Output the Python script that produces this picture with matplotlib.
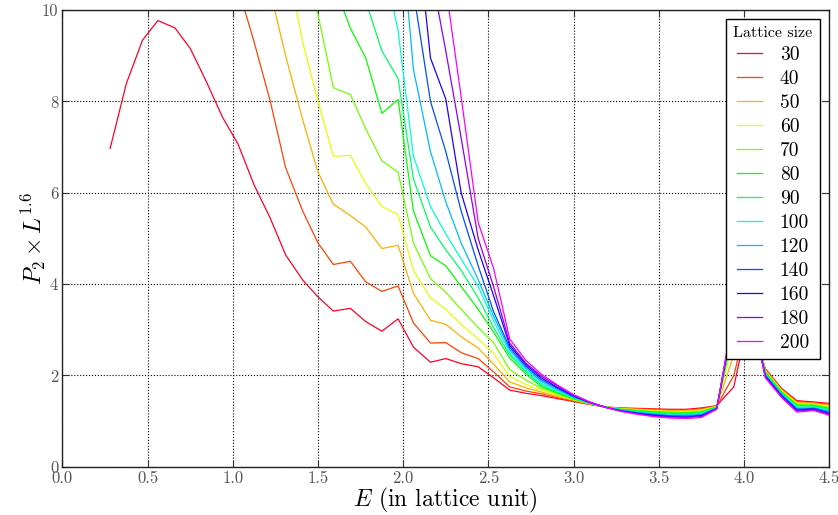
import numpy as np
import matplotlib
matplotlib.use("Agg")
import matplotlib.pyplot as plt
from matplotlib.ticker import FormatStrFormatter

nan = np.nan

# Energy grid (in lattice units)
energy = [0.28, 0.375, 0.47, 0.56, 0.66, 0.75, 0.84, 0.94, 1.03, 1.125,
          1.22, 1.31, 1.41, 1.5, 1.59, 1.69, 1.78, 1.875, 1.97, 2.06,
          2.16, 2.25, 2.34, 2.44, 2.53, 2.625, 2.72, 2.81, 2.91, 3.0,
          3.09, 3.19, 3.28, 3.375, 3.47, 3.56, 3.66, 3.75, 3.84, 3.94,
          4.03, 4.125, 4.22, 4.31, 4.41, 4.5]

lattice_sizes = [30, 40, 50, 60, 70, 80, 90, 100, 120, 140, 160, 180, 200]

p2_L30 = [6.97, 8.39, 9.34, 9.77, 9.61, 9.16, 8.47, 7.65, 7.07, 6.17,
          5.44, 4.64, 4.09, 3.72, 3.41, 3.47, 3.18, 2.97, 3.24, 2.62,
          2.29, 2.37, 2.26, 2.19, 1.95, 1.68, 1.61, 1.56, 1.49, 1.43,
          1.37, 1.31, 1.29, 1.28, 1.27, 1.26, 1.26, 1.29, 1.34, 1.75,
          3.3, 2.15, 1.72, 1.45, 1.42, 1.39]
p2_L40 = [nan, nan, nan, nan, nan, nan, nan, nan, 10.5, 9.3,
          8.0, 6.55, 5.6, 4.9, 4.43, 4.5, 4.05, 3.84, 3.96, 3.15,
          2.71, 2.72, 2.5, 2.37, 2.08, 1.75, 1.66, 1.60, 1.51, 1.44,
          1.37, 1.31, 1.28, 1.27, 1.26, 1.24, 1.24, 1.27, 1.33, 2.0,
          3.35, 2.13, 1.70, 1.43, 1.40, 1.37]
p2_L50 = [nan, nan, nan, nan, nan, nan, nan, nan, nan, nan,
          10.4, 9.0, 7.6, 6.45, 5.75, 5.5, 5.25, 4.78, 4.85, 3.8,
          3.21, 3.12, 2.85, 2.6, 2.25, 1.86, 1.73, 1.64, 1.54, 1.46,
          1.38, 1.31, 1.28, 1.26, 1.24, 1.23, 1.23, 1.25, 1.33, 2.45,
          3.4, 2.12, 1.69, 1.41, 1.39, 1.35]
p2_L60 = [nan, nan, nan, nan, nan, nan, nan, nan, nan, nan,
          nan, 11.2, 9.3, 8.0, 6.8, 6.82, 6.2, 5.7, 5.52, 4.3,
          3.7, 3.45, 3.12, 2.8, 2.48, 1.98, 1.80, 1.68, 1.56, 1.47,
          1.39, 1.31, 1.27, 1.25, 1.23, 1.21, 1.21, 1.24, 1.32, 2.8,
          3.45, 2.10, 1.67, 1.39, 1.37, 1.32]
p2_L70 = [nan, nan, nan, nan, nan, nan, nan, nan, nan, nan,
          nan, nan, 11.3, 9.9, 8.3, 8.15, 7.4, 6.7, 6.45, 4.9,
          4.12, 3.82, 3.45, 3.05, 2.72, 2.13, 1.90, 1.72, 1.59, 1.48,
          1.39, 1.31, 1.26, 1.24, 1.21, 1.20, 1.19, 1.22, 1.31, 3.0,
          3.5, 2.08, 1.65, 1.37, 1.36, 1.30]
p2_L80 = [nan, nan, nan, nan, nan, nan, nan, nan, nan, nan,
          nan, nan, nan, nan, 10.6, 9.6, 8.95, 7.74, 8.04, 5.6,
          4.62, 4.4, 3.95, 3.45, 2.95, 2.38, 2.03, 1.76, 1.61, 1.49,
          1.40, 1.31, 1.26, 1.23, 1.20, 1.18, 1.18, 1.20, 1.31, 3.05,
          3.5, 2.07, 1.64, 1.35, 1.34, 1.28]
p2_L90 = [nan, nan, nan, nan, nan, nan, nan, nan, nan, nan,
          nan, nan, nan, nan, nan, 11.2, 10.2, 9.1, 8.5, 6.3,
          5.25, 4.75, 4.3, 3.7, 3.05, 2.45, 2.08, 1.79, 1.63, 1.51,
          1.40, 1.31, 1.25, 1.22, 1.18, 1.17, 1.16, 1.19, 1.30, 3.1,
          3.55, 2.05, 1.62, 1.33, 1.33, 1.26]
p2_L100 = [nan, nan, nan, nan, nan, nan, nan, nan, nan, nan,
           nan, nan, nan, nan, nan, nan, nan, 11.2, 9.55, 6.8,
           5.7, 5.1, 4.55, 3.95, 3.2, 2.5, 2.12, 1.83, 1.66, 1.52,
           1.40, 1.30, 1.24, 1.20, 1.17, 1.15, 1.14, 1.17, 1.29, 3.15,
           3.55, 2.03, 1.60, 1.30, 1.31, 1.24]
p2_L120 = [nan, nan, nan, nan, nan, nan, nan, nan, nan, nan,
           nan, nan, nan, nan, nan, nan, nan, nan, 12.5, 8.7,
           6.9, 5.8, 4.9, 4.1, 3.3, 2.56, 2.16, 1.87, 1.68, 1.53,
           1.41, 1.30, 1.24, 1.19, 1.16, 1.13, 1.13, 1.15, 1.29, 3.2,
           3.6, 2.02, 1.59, 1.28, 1.29, 1.22]
p2_L140 = [nan, nan, nan, nan, nan, nan, nan, nan, nan, nan,
           nan, nan, nan, nan, nan, nan, nan, nan, 14.0, 10.4,
           8.0, 6.9, 5.6, 4.4, 3.4, 2.61, 2.2, 1.91, 1.71, 1.54,
           1.41, 1.30, 1.23, 1.18, 1.14, 1.12, 1.11, 1.13, 1.28, 3.25,
           3.6, 2.0, 1.57, 1.26, 1.28, 1.19]
p2_L160 = [nan, nan, nan, nan, nan, nan, nan, nan, nan, nan,
           nan, nan, nan, nan, nan, nan, nan, nan, nan, 12.5,
           8.95, 8.05, 6.0, 4.75, 3.75, 2.66, 2.24, 1.95, 1.73, 1.56,
           1.42, 1.30, 1.22, 1.17, 1.13, 1.10, 1.09, 1.12, 1.27, 3.3,
           3.6, 1.98, 1.55, 1.24, 1.26, 1.17]
p2_L180 = [nan, nan, nan, nan, nan, nan, nan, nan, nan, nan,
           nan, nan, nan, nan, nan, nan, nan, nan, nan, 13.5,
           10.9, 9.1, 7.2, 5.0, 3.95, 2.71, 2.27, 1.99, 1.76, 1.57,
           1.42, 1.30, 1.22, 1.16, 1.11, 1.09, 1.08, 1.10, 1.27, 3.35,
           3.65, 1.97, 1.54, 1.22, 1.25, 1.15]
p2_L200 = [nan, nan, nan, nan, nan, nan, nan, nan, nan, nan,
           nan, nan, nan, nan, nan, nan, nan, nan, nan, nan,
           12.8, 10.5, 8.1, 5.35, 4.35, 2.8, 2.33, 2.03, 1.78, 1.58,
           1.43, 1.30, 1.21, 1.15, 1.10, 1.07, 1.06, 1.08, 1.26, 3.4,
           3.65, 1.95, 1.52, 1.20, 1.23, 1.13]

series = [p2_L30, p2_L40, p2_L50, p2_L60, p2_L70, p2_L80, p2_L90,
          p2_L100, p2_L120, p2_L140, p2_L160, p2_L180, p2_L200]

x_ticks = [0.0, 0.5, 1.0, 1.5, 2.0, 2.5, 3.0, 3.5, 4.0, 4.5]
y_ticks = [0, 2, 4, 6, 8, 10]

plt.rcParams.update({
    "font.family": "serif",
    "font.serif": ["cmr10"],
    "mathtext.fontset": "cm",
    "axes.formatter.use_mathtext": True,
    "xtick.direction": "in",
    "ytick.direction": "in",
    "xtick.top": True,
    "ytick.right": True,
})

fig = plt.figure(figsize=(8.38, 5.15), dpi=100)
ax = fig.add_axes([0.0745, 0.0935, 0.915, 0.887])

colors = plt.get_cmap("gist_rainbow")(np.linspace(0, 0.95, len(lattice_sizes)))
for L, y, c in zip(lattice_sizes, series, colors):
    ax.plot(energy, y, color=c, lw=0.9, label=str(L))

ax.set_xlim(0, 4.5)
ax.set_ylim(0, 10)
ax.set_xticks(x_ticks)
ax.set_yticks(y_ticks)
ax.xaxis.set_major_formatter(FormatStrFormatter("%.1f"))
ax.yaxis.set_major_formatter(FormatStrFormatter("%d"))
ax.tick_params(which="major", length=5, width=0.8, labelsize=12, pad=3,
               colors="#333333", labelcolor="#555555")
ax.tick_params(axis="x", pad=2.5)
ax.grid(True, color="k", linestyle=":", linewidth=0.8)
for s in ax.spines.values():
    s.set_linewidth(1.0)
    s.set_color("#222222")

ax.set_xlabel(r"$E$ (in lattice unit)", fontsize=17)
ax.set_ylabel(r"$P_2\times L^{1.6}$", fontsize=17)
ax.xaxis.set_label_coords(0.5, -0.041)
ax.yaxis.set_label_coords(-0.019, 0.5)

leg = ax.legend(title="Lattice size", loc="upper right", fontsize=14,
                title_fontsize=11.5, fancybox=False, edgecolor="k",
                framealpha=1.0, handlelength=1.3, handletextpad=0.9,
                labelspacing=0.31, borderaxespad=0.45, borderpad=0.4)
leg.get_frame().set_linewidth(1.0)

fig.savefig("out.png", dpi=100)
